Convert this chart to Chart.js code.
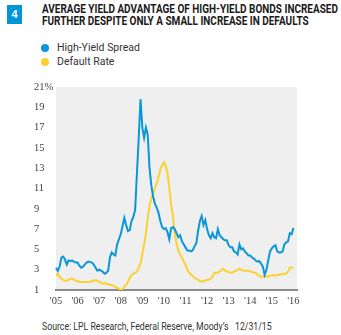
<!DOCTYPE html>
<html>
<head>
<meta charset="utf-8">
<script src="https://cdn.jsdelivr.net/npm/chart.js@4/dist/chart.umd.min.js"></script>
<style>
  html, body { margin: 0; padding: 0; background: #fff; }
  body { width: 341px; height: 335px; position: relative; overflow: hidden; font-family: "Liberation Sans Narrow", "Roboto", sans-serif; }
  .num { position: absolute; left: 7px; top: 5px; width: 15px; height: 19px; background: #0095d9; color: #fff;
         font: bold 11px "Liberation Sans", sans-serif; text-align: center; line-height: 19px; }
  .title { position: absolute; left: 42px; top: 4px; font-weight: bold; font-size: 12px; line-height: 11.5px; color: #1a1a1a;
           transform-origin: 0 0; white-space: nowrap; }
  .legend { position: absolute; left: 41px; top: 41px; font: 10.5px "Roboto", sans-serif; color: #333; }
  .legend div { height: 14px; line-height: 14px; white-space: nowrap; }
  .legend span { display: inline-block; width: 8px; height: 8px; border-radius: 50%; margin-right: 8px; vertical-align: -0.5px; }
  .source { position: absolute; left: 42px; top: 319px; font-size: 11.5px; color: #333; white-space: nowrap; transform-origin: 0 0; }
  .plot { position: absolute; left: 0; top: 70px; width: 341px; height: 250px; }
</style>
</head>
<body>
<div class="num">4</div>
<div class="title" id="title">AVERAGE YIELD ADVANTAGE OF HIGH-YIELD BONDS INCREASED<br>FURTHER DESPITE ONLY A SMALL INCREASE IN DEFAULTS</div>
<div class="legend" id="legend"></div>
<div class="source" id="source">Source: LPL Research, Federal Reserve, Moody’s &nbsp; 12/31/15</div>
<div class="plot"><canvas id="chart"></canvas></div>
<script>
// monthly readings, Jan 2005 .. Jan 2016 (%)
const spread = [
  3.2, 2.9, 3.3, 4.2, 4.3, 4.0, 3.5, 3.9, 3.85, 3.9, 3.8, 3.7,
  3.7, 3.4, 3.2, 3.3, 3.5, 3.7, 3.8, 3.75, 3.7, 3.5, 3.2, 2.9,
  3.0, 2.9, 2.8, 2.6, 2.7, 2.9, 4.2, 4.7, 4.5, 4.4, 5.5, 6.0,
  6.5, 7.3, 8.1, 7.4, 6.8, 6.9, 7.8, 8.2, 8.9, 12.5, 16.0, 19.8,
  17.0, 16.0, 17.0, 16.3, 13.0, 11.3, 10.2, 9.5, 9.1, 8.6, 7.8, 7.2,
  7.0, 7.1, 6.7, 6.0, 7.1, 7.2, 7.0, 6.6, 6.2, 6.4, 5.8, 5.5,
  5.2, 4.9, 4.9, 4.8, 4.9, 5.3, 5.6, 6.8, 7.8, 8.3, 7.4, 7.9,
  7.0, 6.4, 6.1, 6.6, 6.2, 6.1, 7.0, 6.4, 6.2, 6.0, 5.9, 5.9,
  5.4, 5.2, 5.2, 4.8, 4.7, 4.5, 5.5, 5.0, 5.1, 4.8, 4.6, 4.4,
  4.4, 4.2, 4.1, 3.9, 3.8, 3.85, 3.6, 3.3, 2.5, 3.0, 3.9, 4.8,
  5.1, 5.3, 5.4, 4.8, 4.7, 4.7, 4.8, 5.5, 5.7, 5.8, 6.6, 6.5,
  7.1
];
const defaultRate = [
  2.4, 2.6, 2.3, 2.1, 2.0, 1.9, 1.9, 2.0, 2.1, 2.1, 2.0, 1.9,
  1.9, 1.8, 1.8, 1.8, 1.8, 1.8, 1.8, 1.8, 1.9, 1.9, 2.0, 1.9,
  1.8, 1.7, 1.6, 1.7, 1.6, 1.6, 1.5, 1.5, 1.4, 1.3, 1.2, 1.1,
  1.0, 1.1, 1.3, 1.5, 1.8, 2.2, 2.5, 2.6, 2.7, 2.8, 3.2, 3.6,
  4.6, 5.5, 6.5, 8.1, 9.3, 10.0, 10.5, 11.0, 11.5, 12.1, 12.9, 13.3,
  13.6, 13.2, 12.5, 11.1, 9.4, 8.3, 6.6, 5.6, 4.9, 4.5, 4.2, 3.8,
  3.5, 3.0, 2.7, 2.5, 2.4, 2.2, 2.1, 2.0, 1.9, 1.8, 1.9, 1.9,
  2.0, 2.0, 2.1, 2.3, 2.7, 2.7, 2.7, 2.8, 3.0, 3.1, 2.9, 2.8,
  2.8, 2.7, 2.7, 2.8, 2.9, 3.0, 3.1, 3.0, 2.9, 2.9, 2.9, 2.9,
  2.8, 2.8, 2.7, 2.7, 2.5, 2.4, 2.3, 2.3, 2.3, 2.4, 2.3, 2.4,
  2.4, 2.5, 2.4, 2.5, 2.5, 2.5, 2.6, 2.6, 2.6, 2.8, 3.2, 3.2,
  3.2
];
const yTicks = [1, 3, 5, 7, 9, 11, 13, 15, 17, 19, 21];
const seriesNames = ["High-Yield Spread", "Default Rate"];
const seriesColors = ["#0a96d8", "#fbd133"];

// month labels, running a little past Jan 2016 so the axis ends just after '16
const months = [];
for (let y = 2005; y <= 2016; y++) {
  for (let m = 1; m <= 12; m++) {
    if (y === 2016 && m > 3) break;
    months.push(y + "-" + String(m).padStart(2, "0"));
  }
}

// fit the heading and source lines to their widths
function fitWidth(id, w) {
  const el = document.getElementById(id);
  el.style.transform = "scaleX(" + (w / el.offsetWidth) + ")";
}
fitWidth("title", 296);
fitWidth("source", 230);

document.getElementById("legend").innerHTML = seriesNames
  .map((n, i) => '<div><span style="background:' + seriesColors[i] + '"></span>' + n + '</div>')
  .join("");

const plotBg = {
  id: "plotBg",
  beforeDraw(chart) {
    const a = chart.chartArea, ctx = chart.ctx;
    ctx.save();
    ctx.fillStyle = "#efefef";
    ctx.fillRect(a.left, a.top, a.right - a.left, a.bottom - a.top);
    ctx.restore();
  }
};

const tickFont = { family: "'Liberation Serif', serif", size: 10.5 };

new Chart(document.getElementById("chart").getContext("2d"), {
  type: "line",
  data: {
    labels: months,
    datasets: [{
      label: seriesNames[0],
      data: spread,
      borderColor: seriesColors[0],
      borderWidth: 2,
      pointRadius: 0,
      tension: 0
    }, {
      label: seriesNames[1],
      data: defaultRate,
      borderColor: seriesColors[1],
      borderWidth: 2,
      pointRadius: 0,
      tension: 0
    }]
  },
  options: {
    responsive: true,
    maintainAspectRatio: false,
    animation: false,
    layout: { padding: { left: 34, right: 44, top: 17, bottom: 10 } },
    plugins: { legend: { display: false }, tooltip: { enabled: false } },
    scales: {
      x: {
        type: "category",
        offset: false,
        grid: { display: false, drawTicks: false },
        border: { display: true, color: "#8a8a8a", width: 2 },
        afterFit(s) { s.height = 20; },
        ticks: {
          autoSkip: false,
          maxRotation: 0,
          padding: 5,
          color: "#444",
          font: tickFont,
          callback(v) {
            const l = this.getLabelForValue(v);
            return l.endsWith("-01") ? "'" + l.slice(2, 4) : "";
          }
        }
      },
      y: {
        min: 1,
        max: 21,
        grid: { display: false, drawTicks: false },
        border: { display: false },
        afterFit(s) { s.width = 22; },
        afterBuildTicks(s) { s.ticks = yTicks.map(v => ({ value: v })); },
        ticks: {
          crossAlign: "far",
          color: "#444",
          font: tickFont,
          callback: v => v === 21 ? "21%" : v
        }
      }
    }
  },
  plugins: [plotBg]
});
</script>
</body>
</html>
